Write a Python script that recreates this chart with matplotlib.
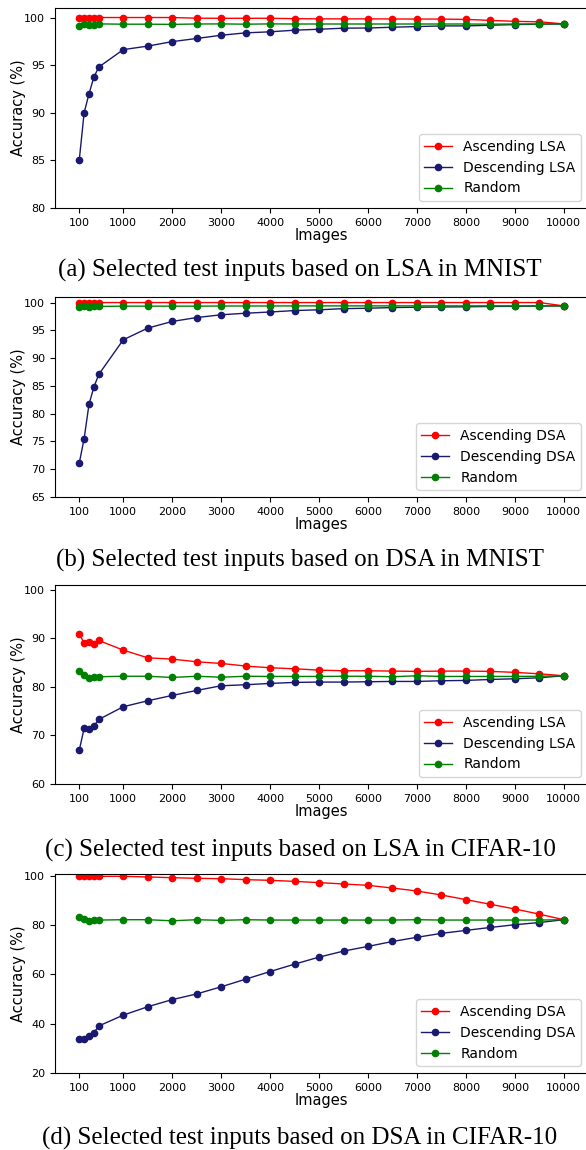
import matplotlib
matplotlib.use("Agg")
import matplotlib.pyplot as plt

# x positions: number of selected test images
images = [100, 200, 300, 400, 500, 1000, 1500, 2000, 2500, 3000, 3500, 4000,
          4500, 5000, 5500, 6000, 6500, 7000, 7500, 8000, 8500, 9000, 9500, 10000]
xticks = [100, 1000, 2000, 3000, 4000, 5000, 6000, 7000, 8000, 9000, 10000]

# (a) LSA, MNIST
a_asc = [100, 100, 100, 100, 100, 100, 100, 100, 99.93, 99.92, 99.92, 99.92,
         99.88, 99.86, 99.86, 99.86, 99.85, 99.84, 99.84, 99.8, 99.7, 99.6, 99.55, 99.33]
a_desc = [85.0, 90.0, 92.0, 93.75, 94.8, 96.63, 97.0, 97.47, 97.8, 98.14, 98.39, 98.5,
          98.67, 98.77, 98.88, 98.9, 98.98, 99.05, 99.12, 99.12, 99.19, 99.26, 99.3, 99.33]
a_rand = [99.16, 99.33, 99.2, 99.2, 99.33, 99.3, 99.3, 99.28, 99.32, 99.33, 99.3, 99.33,
          99.32, 99.32, 99.32, 99.32, 99.32, 99.32, 99.32, 99.32, 99.3, 99.32, 99.32, 99.33]

# (b) DSA, MNIST
b_asc = [100, 100, 100, 100, 100, 100, 100, 100, 100, 100, 100, 100,
         100, 100, 100, 100, 100, 100, 100, 100, 100, 100, 100, 99.4]
b_desc = [71.08, 75.5, 81.7, 84.8, 87.07, 93.3, 95.4, 96.6, 97.3, 97.8, 98.08, 98.3,
          98.56, 98.7, 98.9, 98.98, 99.1, 99.16, 99.2, 99.24, 99.3, 99.32, 99.38, 99.4]
b_rand = [99.2, 99.3, 99.25, 99.3, 99.3, 99.35, 99.35, 99.35, 99.35, 99.38, 99.38, 99.38,
          99.4, 99.4, 99.4, 99.4, 99.4, 99.4, 99.4, 99.4, 99.4, 99.4, 99.4, 99.4]

# (c) LSA, CIFAR-10
c_asc = [91.0, 89.0, 89.3, 88.75, 89.57, 87.58, 86.0, 85.73, 85.18, 84.84, 84.3, 83.95,
         83.74, 83.46, 83.33, 83.33, 83.26, 83.2, 83.26, 83.26, 83.2, 83.0, 82.7, 82.3]
c_desc = [66.93, 71.46, 71.25, 71.94, 73.3, 75.92, 77.15, 78.25, 79.28, 80.24, 80.45, 80.72,
          80.93, 81.0, 81.0, 81.07, 81.13, 81.13, 81.27, 81.34, 81.54, 81.68, 81.89, 82.3]
c_rand = [83.26, 82.4, 81.75, 82.0, 82.1, 82.2, 82.2, 81.95, 82.2, 82.0, 82.2, 82.16,
          82.16, 82.16, 82.2, 82.2, 82.1, 82.3, 82.16, 82.16, 82.16, 82.16, 82.2, 82.3]

# (d) DSA, CIFAR-10
d_asc = [100, 100, 100, 99.86, 99.86, 99.86, 99.6, 99.3, 99.05, 98.9, 98.5, 98.24,
         97.8, 97.3, 96.75, 96.2, 95.1, 93.9, 92.27, 90.4, 88.5, 86.6, 84.5, 82.24]
d_desc = [33.97, 34.0, 35.2, 36.4, 39.1, 43.5, 46.9, 49.8, 52.1, 55.0, 58.1, 61.2,
          64.2, 67.05, 69.5, 71.4, 73.4, 75.1, 76.7, 77.9, 79.1, 80.2, 81.1, 82.24]
d_rand = [83.2, 82.5, 81.56, 82.1, 82.1, 82.24, 82.24, 81.8, 82.24, 81.97, 82.24, 82.1,
          82.1, 82.1, 82.1, 82.1, 82.1, 82.24, 82.1, 82.1, 82.1, 82.1, 82.1, 82.24]

panels = [
    ("LSA", (a_asc, a_desc, a_rand), (80, 101), range(80, 101, 5),
     "(a) Selected test inputs based on LSA in MNIST"),
    ("DSA", (b_asc, b_desc, b_rand), (65, 101), range(65, 101, 5),
     "(b) Selected test inputs based on DSA in MNIST"),
    ("LSA", (c_asc, c_desc, c_rand), (60, 101), range(60, 101, 10),
     "(c) Selected test inputs based on LSA in CIFAR-10"),
    ("DSA", (d_asc, d_desc, d_rand), (20, 100.8), range(20, 101, 20),
     "(d) Selected test inputs based on DSA in CIFAR-10"),
]

W, H = 586, 1150
fig = plt.figure(figsize=(W / 100, H / 100), dpi=100)

# axes boxes in pixels: (top, bottom); right edge sits just past the crop
boxes = [(8, 208), (297, 497), (585, 784), (874, 1073)]
captions_y = [270, 560, 850, 1138]
left, right = 55, 588

for (sa, series, ylim, yt, caption), (top, bot), cy in zip(panels, boxes, captions_y):
    ax = fig.add_axes([left / W, 1 - bot / H, (right - left) / W, (bot - top) / H])
    asc, desc, rand = series
    ax.plot(images, asc, "-o", color="red", lw=1, ms=4.5, label=f"Ascending {sa}")
    ax.plot(images, desc, "-o", color="midnightblue", lw=1, ms=4.5, label=f"Descending {sa}")
    ax.plot(images, rand, "-o", color="green", lw=1, ms=4.5, label="Random")
    ax.set_ylim(*ylim)
    ax.set_yticks(list(yt))
    ax.set_xticks(xticks)
    ax.tick_params(labelsize=8)
    ax.set_xlabel("Images", fontsize=10.5, labelpad=0)
    ax.set_ylabel("Accuracy (%)", fontsize=10.5, labelpad=-1)
    ax.legend(loc="lower right", fontsize=10)
    fig.text(300 / W, 1 - cy / H, caption, ha="center", va="center",
             fontsize=18, family="Liberation Serif")

fig.savefig("out.png", dpi=100)
